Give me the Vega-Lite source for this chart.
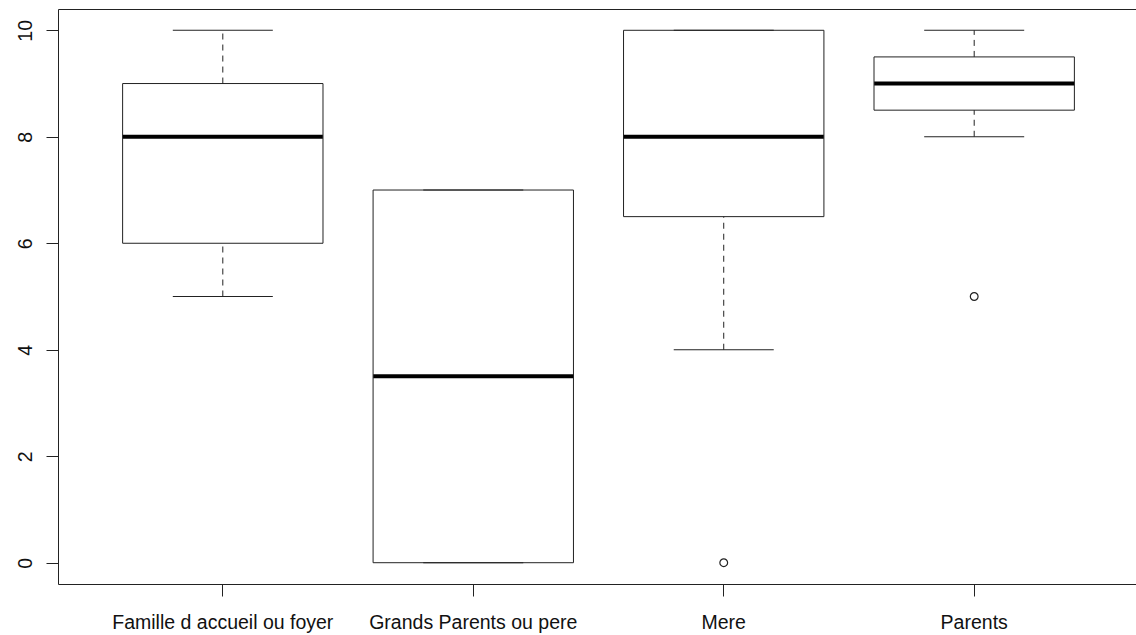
{
  "$schema": "https://vega.github.io/schema/vega-lite/v6.json",
  "width": 1078,
  "height": 575,
  "autosize": "none",
  "padding": {"left": 58, "top": 9, "right": 0, "bottom": 51},
  "background": "white",
  "config": {
    "view": {"stroke": null},
    "font": "Liberation Sans",
    "axis": {
      "grid": false,
      "title": null,
      "domainColor": "#222",
      "domainWidth": 1,
      "tickColor": "#222",
      "tickWidth": 1,
      "tickSize": 12,
      "labelColor": "#111",
      "labelFont": "Liberation Sans",
      "labelFontSize": 19.5,
      "labelLimit": 0,
      "labelOverlap": false
    }
  },
  "datasets": {
    "stats": [
      {"groupe": "Famille d accueil ou foyer", "min": 5, "q1": 6, "median": 8, "q3": 9, "max": 10},
      {"groupe": "Grands Parents ou pere", "min": 0, "q1": 0, "median": 3.5, "q3": 7, "max": 7},
      {"groupe": "Mere", "min": 4, "q1": 6.5, "median": 8, "q3": 10, "max": 10},
      {"groupe": "Parents", "min": 8, "q1": 8.5, "median": 9, "q3": 9.5, "max": 10}
    ],
    "outliers": [
      {"groupe": "Mere", "valeur": 0},
      {"groupe": "Parents", "valeur": 5}
    ]
  },
  "resolve": {"axis": {"x": "independent"}},
  "layer": [
    {
      "data": {"name": "stats"},
      "mark": {"type": "rect", "fill": "white", "stroke": "#222", "strokeWidth": 1},
      "encoding": {
        "x": {
          "field": "groupe", "type": "nominal", "sort": null,
          "scale": {"range": [0, 1081], "paddingInner": 0.2, "paddingOuter": 0.258},
          "axis": {"orient": "bottom", "labelAngle": 0, "labelBaseline": "alphabetic", "labelPadding": 32, "labelAlign": "center", "labelLimit": 0}
        },
        "y": {
          "field": "q1", "type": "quantitative",
          "scale": {"domain": [-0.4, 10.4], "nice": false, "zero": false},
          "axis": {"values": [0, 2, 4, 6, 8, 10], "labelAngle": 270, "labelAlign": "center", "labelBaseline": "alphabetic", "labelPadding": 15}
        },
        "y2": {"field": "q3"}
      }
    },
    {
      "data": {"name": "stats"},
      "mark": {"type": "rule", "stroke": "#222", "strokeWidth": 1, "strokeDash": [6, 5]},
      "encoding": {
        "x": {"field": "groupe", "type": "nominal", "sort": null, "axis": {"orient": "top", "labels": false, "ticks": false, "domain": true}},
        "y": {"field": "q3", "type": "quantitative"},
        "y2": {"field": "max"}
      }
    },
    {
      "data": {"name": "stats"},
      "mark": {"type": "rule", "stroke": "#222", "strokeWidth": 1, "strokeDash": [6, 5]},
      "encoding": {
        "x": {"field": "groupe", "type": "nominal", "sort": null, "axis": null},
        "y": {"field": "min", "type": "quantitative"},
        "y2": {"field": "q1"}
      }
    },
    {
      "data": {"name": "stats"},
      "mark": {"type": "tick", "color": "#222", "size": 100, "thickness": 1, "opacity": 1},
      "encoding": {
        "x": {"field": "groupe", "type": "nominal", "sort": null, "axis": null},
        "y": {"field": "max", "type": "quantitative"}
      }
    },
    {
      "data": {"name": "stats"},
      "mark": {"type": "tick", "color": "#222", "size": 100, "thickness": 1, "opacity": 1},
      "encoding": {
        "x": {"field": "groupe", "type": "nominal", "sort": null, "axis": null},
        "y": {"field": "min", "type": "quantitative"}
      }
    },
    {
      "data": {"name": "stats"},
      "mark": {"type": "tick", "color": "black", "size": 200, "thickness": 4, "opacity": 1},
      "encoding": {
        "x": {"field": "groupe", "type": "nominal", "sort": null, "axis": null},
        "y": {"field": "median", "type": "quantitative"}
      }
    },
    {
      "data": {"name": "outliers"},
      "mark": {"type": "point", "shape": "circle", "filled": false, "stroke": "#222", "strokeWidth": 1.2, "size": 60, "opacity": 1},
      "encoding": {
        "x": {"field": "groupe", "type": "nominal", "sort": null, "axis": null},
        "y": {"field": "valeur", "type": "quantitative"}
      }
    }
  ]
}
